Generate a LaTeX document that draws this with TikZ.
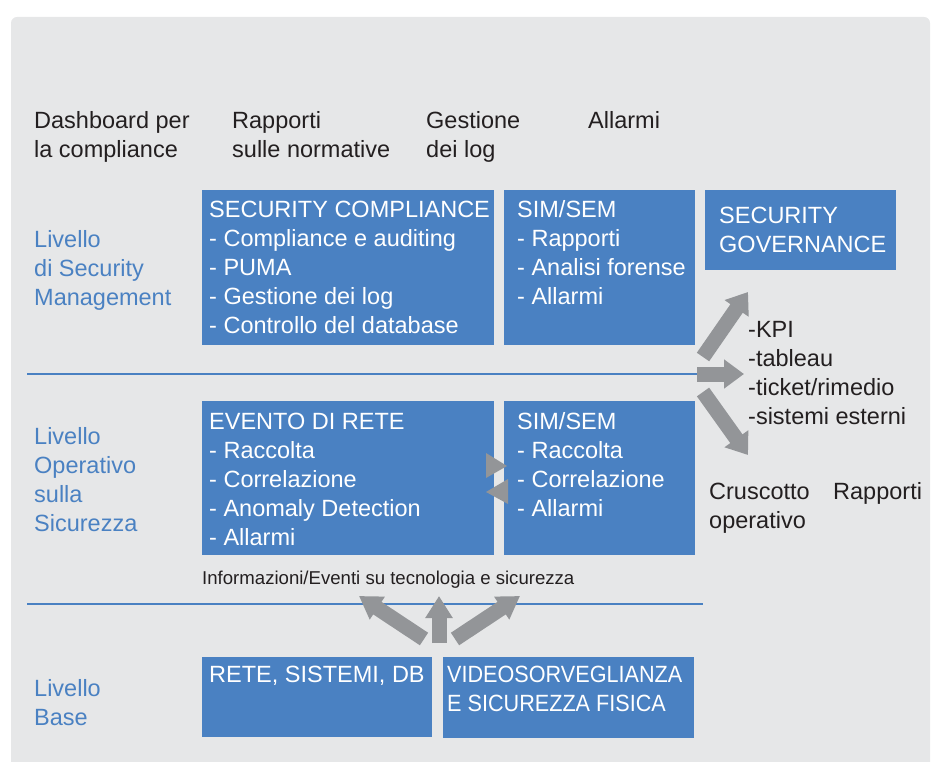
\documentclass[tikz,border=0pt]{standalone}
\usepackage{fontspec}
\setmainfont{Liberation Sans}
\newfontfamily\narrowfont[FakeStretch=0.92]{Liberation Sans}
\usetikzlibrary{arrows.meta,calc}
\definecolor{boxblue}{HTML}{4A81C2}
\definecolor{bggray}{HTML}{E6E7E8}
\definecolor{arrgray}{HTML}{939598}
\definecolor{txtblack}{HTML}{231F20}
\begin{document}
\begin{tikzpicture}[x=1pt, y=-1pt,
	blubox/.style={fill=boxblue, draw=none, inner sep=0pt, anchor=north west},
	intext/.style={anchor=north west, inner sep=0pt, align=left, text=white, font=\fontsize{23.5}{29}\selectfont},
	lvltext/.style={anchor=north west, inner sep=0pt, align=left, text=boxblue, font=\fontsize{23.5}{29}\selectfont},
	outtext/.style={anchor=north west, inner sep=0pt, align=left, text=txtblack, font=\fontsize{23.5}{29}\selectfont},
	fatarrow/.style={draw=arrgray, line width=15pt, -{Triangle[width=28pt,length=20pt]}},
	]
				\useasboundingbox (0,0) rectangle (935,762);
				% Background
				\fill[bggray] (11,762) [rounded corners=6pt] -- (11,17) -- (930,17) [sharp corners] -- (930,762) -- cycle;

				% Top labels
				\node[outtext] (dash) at (34,111.6) {Dashboard per\\la compliance};
				\node[outtext] (norm) at (232,111.6) {Rapporti\\sulle normative};
				\node[outtext] (glog) at (426,111.6) {Gestione\\dei log};
				\node[outtext] (allarm) at (588,111.6) {Allarmi};

				% Level lines
				\draw[boxblue, line width=2pt] (27,374) -- (700,374);
				\draw[boxblue, line width=2pt] (27,604) -- (703,604);

				% Security management
				\node[lvltext] (lvlsec) at (34,230.6) {Livello\\di Security\\Management};
				\node[blubox, minimum width=292pt, minimum height=155pt] (seccomp) at (202,190) {};
				\node[blubox, minimum width=191pt, minimum height=155pt] (simtop) at (504,190) {};
				\node[blubox, minimum width=191pt, minimum height=80pt] (secgov) at (705,190) {};
				\node[intext] (seccomptxt) at (209,200.6) {SECURITY COMPLIANCE\\- Compliance e auditing\\- PUMA\\- Gestione dei log\\- Controllo del database};
				\node[intext] (simtoptxt) at (517,200.6) {SIM/SEM\\- Rapporti\\- Analisi forense\\- Allarmi};
				\node[intext] (secgovtxt) at (719,206.6) {SECURITY\\GOVERNANCE};

				% Security operations
				\node[lvltext] (lvlops) at (34,427.6) {Livello\\Operativo\\sulla\\Sicurezza};
				\node[blubox, minimum width=292pt, minimum height=154pt] (evento) at (202,401) {};
				\node[blubox, minimum width=191pt, minimum height=154pt] (simbot) at (504,401) {};
				\node[intext] (eventotxt) at (209,412.6) {EVENTO DI RETE\\- Raccolta\\- Correlazione\\- Anomaly Detection\\- Allarmi};
				\node[intext] (simbottxt) at (517,412.6) {SIM/SEM\\- Raccolta\\- Correlazione\\- Allarmi};
				\fill[arrgray] (486,453) -- (507,466) -- (486,478) -- cycle;
				\fill[arrgray] (508,479) -- (486,492) -- (508,504) -- cycle;
				\node[outtext, font=\fontsize{18.6}{22}\selectfont] (info) at (202,571.3) {Informazioni/Eventi su tecnologia e sicurezza};

				% Base
				\node[lvltext] (lvlbase) at (34,679.6) {Livello\\Base};
				\node[blubox, minimum width=230pt, minimum height=80pt] (rete) at (202,657) {};
				\node[blubox, minimum width=251pt, minimum height=81pt] (video) at (443,657) {};
				\node[intext] (retetxt) at (209,665.6) {RETE, SISTEMI, DB};
				\node[intext, font=\narrowfont\fontsize{23.5}{29}\selectfont] (videotxt) at (447,665.6) {VIDEOSORVEGLIANZA\\E SICUREZZA FISICA};

				% Outputs
				\node[outtext] (kpi) at (748,321.6) {-KPI\\-tableau\\-ticket/rimedio\\-sistemi esterni};
				\node[outtext] (crusc) at (709,482.6) {Cruscotto\\operativo};
				\node[outtext] (rapp) at (833,482.6) {Rapporti};

				% Arrows to outputs
				\coordinate (hubup) at (703,357);
				\coordinate (hubmid) at (697,374);
				\coordinate (hubdown) at (703,392);
				\coordinate (tipup) at (748,292);
				\coordinate (tipmid) at (744,374);
				\coordinate (tipdown) at (748,455);
				\draw[fatarrow] (hubup) -- (tipup);
				\draw[fatarrow] (hubmid) -- (tipmid);
				\draw[fatarrow] (hubdown) -- (tipdown);

				% Arrows from base
				\coordinate (baseleft) at (424,639);
				\coordinate (basemid) at (439,643);
				\coordinate (baseright) at (455,639);
				\coordinate (upleft) at (359,596);
				\coordinate (upmid) at (439,596);
				\coordinate (upright) at (520,596);
				\draw[fatarrow, -{Triangle[width=26pt,length=22pt]}] (baseleft) -- (upleft);
				\draw[fatarrow, -{Triangle[width=26pt,length=22pt]}] (basemid) -- (upmid);
				\draw[fatarrow, -{Triangle[width=26pt,length=22pt]}] (baseright) -- (upright);
			\end{tikzpicture}
\end{document}
